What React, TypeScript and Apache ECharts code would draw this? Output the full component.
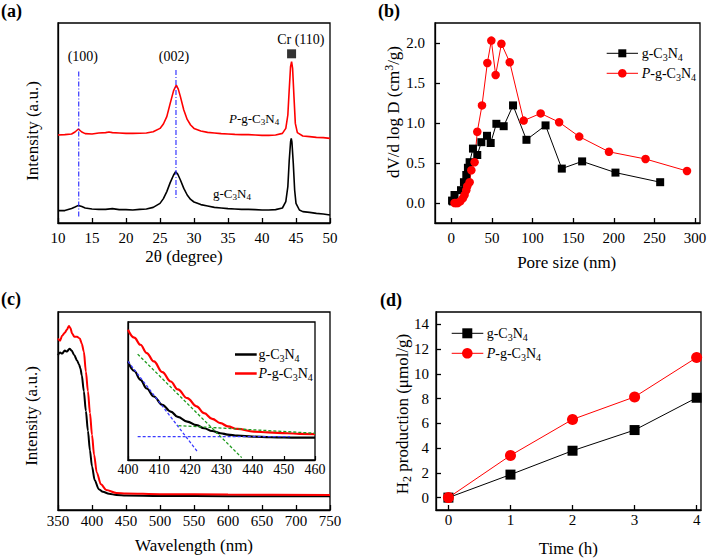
import React, { useEffect, useRef } from "react";
import * as echarts from "echarts";

const FONT = "Liberation Serif";

// ---------- Panel (a): XRD ----------
const xrdGx = [10, 11, 12, 12.5, 13, 13.5, 14, 15, 16, 17, 18, 19, 20, 21, 22, 23, 24, 25, 25.5, 26, 26.5, 27, 27.3, 27.6, 28, 28.5, 29, 29.5, 30, 31, 32, 33, 34, 35, 36, 37, 38, 39, 40, 41, 42, 43, 43.5, 43.8, 44.0, 44.2, 44.3, 44.4, 44.6, 44.8, 45, 45.5, 46, 47, 48, 49, 50];
const xrdGy = [6.2, 6.2, 7.3, 8.0, 8.8, 8.2, 7.5, 7.0, 6.8, 6.8, 7.2, 6.7, 6.7, 6.5, 6.8, 7.0, 7.8, 9.8, 12.2, 15.7, 20.2, 24, 25.6, 24.5, 21.5, 17.3, 14, 11.8, 10.5, 9.2, 8.5, 7.8, 7.5, 7.2, 7.0, 6.8, 6.8, 6.7, 6.5, 6.5, 6.7, 7.5, 10.7, 18.2, 31, 40.5, 42.3, 40.5, 29.8, 16.5, 9.8, 6.5, 5.7, 5.3, 4.8, 4.5, 4.0];
const xrdPx = [10, 11, 12, 12.5, 13, 13.5, 14, 15, 16, 17, 17.5, 18, 19, 20, 21, 22, 23, 24, 25, 25.5, 26, 26.5, 27, 27.4, 27.7, 28, 28.5, 29, 29.5, 30, 31, 32, 33, 34, 35, 36, 37, 38, 39, 40, 41, 42, 43, 43.5, 43.8, 44.0, 44.2, 44.35, 44.5, 44.7, 44.9, 45.2, 46, 47, 48, 49, 50];
const xrdPy = [44, 44.2, 44.5, 45.5, 47, 45.5, 44.7, 44.5, 45, 45.2, 45.5, 45.2, 45, 44.8, 44.8, 44.9, 45, 45.6, 47.3, 49.5, 53.2, 59.8, 66.2, 69, 66.8, 63.2, 56.5, 51.8, 49, 47.3, 46, 45.3, 45, 44.7, 44.5, 44.3, 44.2, 44.2, 44, 43.8, 43.8, 44, 44.8, 47.3, 54, 66.5, 78.2, 80.7, 77.3, 63.2, 49.8, 45.2, 43.5, 43.2, 42.8, 42.7, 42.3];
const peak100X = [13.05, 13.05];
const peak100Y = [75.7, 2.3];
const peak002X = [27.35, 27.35];
const peak002Y = [76.5, 11.8];
const crMarker = [[44.35, 84.6]];

// ---------- Panel (b): pore size distribution ----------
const poreGx = [1, 2, 4, 12, 15.6, 18.5, 20.5, 22.6, 26.7, 32, 37, 44, 48.5, 55.5, 64.5, 76, 92.5, 116, 136, 161, 202, 257];
const poreGy = [0.03, 0.02, 0.1, 0.16, 0.26, 0.35, 0.44, 0.51, 0.68, 0.6, 0.76, 0.84, 0.75, 0.99, 0.96, 1.22, 0.79, 0.97, 0.43, 0.52, 0.38, 0.26];
const porePx = [4, 6, 8, 11, 14.3, 16.4, 18.5, 19.7, 22.6, 24.7, 28.7, 32, 37.8, 44.4, 49.3, 54.6, 61.7, 71.9, 89.1, 110, 132.7, 157.4, 194, 239, 290];
const porePy = [0.0, 0.0, 0.0, 0.02, 0.06, 0.1, 0.16, 0.21, 0.26, 0.41, 0.51, 0.89, 1.22, 1.75, 2.03, 1.6, 1.99, 1.76, 1.03, 1.12, 1.01, 0.83, 0.64, 0.55, 0.4];

// ---------- Panel (c): UV-vis ----------
const uvGx = [350, 353, 356, 360, 363, 367, 370, 374, 378, 381, 383, 385, 388, 391, 394, 397, 400, 404, 410, 416, 425, 436, 450, 500, 600, 750];
const uvGy = [78.2, 79.5, 79, 80.5, 80, 81.5, 80.5, 78.2, 75.5, 73.5, 71.5, 68, 60, 50, 40, 30, 22, 15, 10.5, 9.2, 8.2, 7.6, 7.3, 7.1, 7.0, 7.0];
const uvPx = [350, 353, 356, 360, 363, 366, 368, 371, 374, 378, 382, 385, 388, 391, 394, 397, 400, 403, 407, 413, 421, 436, 450, 500, 600, 750];
const uvPy = [86.6, 85.5, 88, 89.5, 91, 92.9, 92, 89, 87.5, 87.5, 86.6, 84, 80, 70, 60, 49, 38, 28, 19, 13, 10.1, 8.6, 8.3, 8.0, 7.8, 7.6];

// inset (band-gap extrapolation)
const insGx = [400, 402, 404, 406, 408.3, 411, 413.7, 416, 419, 422, 424.4, 427, 429.7, 432, 435.1, 440, 445.8, 450, 455, 460];
const insGy = [71.4, 64.5, 58.1, 51.8, 46, 40, 35.1, 31.3, 27.8, 25.2, 23, 21, 19.4, 18.4, 17.6, 16.9, 16.5, 16.3, 16.2, 16.2];
const insPx = [400, 402, 404, 406, 408.3, 411, 413.7, 416, 419, 422, 424.4, 427, 429.7, 432, 435.1, 440.4, 445, 451.1, 455, 460];
const insPy = [94.4, 88.7, 83.5, 77.5, 71.4, 63.7, 56.9, 51.2, 44.8, 38.9, 33.9, 29.8, 26.7, 24.4, 22.5, 20.6, 20, 19.4, 19, 18.7];
const blueTanX = [400, 422.3];
const blueTanY = [71.4, 6.0];
const blueBaseX = [403.1, 452];
const blueBaseY = [16.9, 16.9];
const greenTanX = [403.1, 436.5];
const greenTanY = [76.7, 1.7];
const greenBaseX = [416.2, 460];
const greenBaseY = [24.9, 19.4];

// ---------- Panel (d): H2 production ----------
const timeH = [0, 1, 2, 3, 4];
const h2G = [0, 1.86, 3.79, 5.46, 8.07];
const h2P = [0, 3.41, 6.32, 8.14, 11.32];

const pairs = (xs: number[], ys: number[]) => xs.map((x, i) => [x, ys[i]]);

const rich = (fs: number) => ({
  n: { fontFamily: FONT, fontSize: fs, fill: "#000" },
  i: { fontFamily: FONT, fontSize: fs, fontStyle: "italic", fill: "#000" },
  s: { fontFamily: FONT, fontSize: Math.round(fs * 0.7), fill: "#000", padding: [Math.round(fs * 0.55), 0, 0, 0] },
  u: { fontFamily: FONT, fontSize: Math.round(fs * 0.7), fill: "#000", padding: [0, 0, Math.round(fs * 0.55), 0] },
});

const G_TXT = "{n|g-C}{s|3}{n|N}{s|4}";
const P_TXT = "{i|P}{n|-g-C}{s|3}{n|N}{s|4}";

const txt = (x: number, y: number, text: string, fs: number, o: any = {}) => ({
  type: "text",
  x,
  y,
  rotation: o.rot || 0,
  z: 100,
  silent: true,
  style: {
    text,
    fontFamily: FONT,
    fontSize: fs,
    fontWeight: o.bold ? "bold" : "normal",
    fill: "#000",
    align: o.align || "center",
    verticalAlign: "middle",
    rich: o.rich ? rich(fs) : undefined,
  },
});
const ln = (x1: number, y1: number, x2: number, y2: number, color: string, w: number) => ({
  type: "line",
  z: 100,
  silent: true,
  shape: { x1, y1, x2, y2 },
  style: { stroke: color, lineWidth: w },
});

const axisBase = (gridIndex: number, extra: any) => ({
  gridIndex,
  type: "value",
  axisLine: { show: true, onZero: false, lineStyle: { color: "#000", width: 1.3 } },
  axisTick: { show: true, inside: true, length: 5, lineStyle: { color: "#000", width: 1.3 } },
  splitLine: { show: false },
  ...extra,
  axisLabel: { color: "#000", fontFamily: FONT, fontSize: 15, ...(extra.axisLabel || {}) },
});

const gridBase = { show: true, borderColor: "#000", borderWidth: 1.3, containLabel: false, outerBoundsMode: "none" };

const line = (name: string, xi: number, data: any[], color: string, width: number, extra: any = {}) => ({
  name,
  type: "line",
  xAxisIndex: xi,
  yAxisIndex: xi,
  data,
  silent: true,
  showSymbol: false,
  symbol: "none",
  lineStyle: { color, width },
  itemStyle: { color },
  ...extra,
});

const option: any = {
  animation: false,
  backgroundColor: "#fff",
  textStyle: { fontFamily: FONT },
  grid: [
    { ...gridBase, left: 58, top: 23, width: 272, height: 200 },
    { ...gridBase, left: 435, top: 23, width: 265, height: 200 },
    { ...gridBase, left: 58, top: 312, width: 272, height: 198 },
    { ...gridBase, left: 436, top: 312, width: 265, height: 198 },
    { ...gridBase, left: 128, top: 322, width: 187, height: 138, backgroundColor: "#fff" },
  ],
  xAxis: [
    axisBase(0, { min: 10, max: 50, interval: 5, axisLabel: { margin: 7 } }),
    axisBase(1, { min: -20, max: 306, minInterval: 50, maxInterval: 50, axisLabel: { margin: 7, showMinLabel: false, showMaxLabel: false } }),
    axisBase(2, { min: 350, max: 750, interval: 50, axisLabel: { margin: 3 } }),
    axisBase(3, { min: -0.2, max: 4.07, minInterval: 1, maxInterval: 1, axisLabel: { margin: 2, showMinLabel: false, showMaxLabel: false } }),
    axisBase(4, { min: 400, max: 460, interval: 10, axisTick: { show: true, inside: true, length: 4, lineStyle: { color: "#000", width: 1.2 } }, axisLabel: { margin: 2, fontSize: 14 } }),
  ],
  yAxis: [
    axisBase(0, { min: 0, max: 100, axisTick: { show: false }, axisLabel: { show: false } }),
    axisBase(1, { min: -0.25, max: 2.25, minInterval: 0.5, maxInterval: 0.5, axisLabel: { margin: 10, showMinLabel: false, showMaxLabel: false, formatter: (v: number) => v.toFixed(1) } }),
    axisBase(2, { min: 0, max: 100, axisTick: { show: false }, axisLabel: { show: false } }),
    axisBase(3, { min: -1, max: 15, minInterval: 2, maxInterval: 2, axisLabel: { margin: 7, showMinLabel: false, showMaxLabel: false } }),
    axisBase(4, { min: 0, max: 100, axisTick: { show: false }, axisLabel: { show: false } }),
  ],
  series: [
    // (a)
    line("g-C3N4 XRD", 0, pairs(xrdGx, xrdGy), "#000", 1.6),
    line("P-g-C3N4 XRD", 0, pairs(xrdPx, xrdPy), "#ff0000", 1.6),
    line("(100)", 0, pairs(peak100X, peak100Y), "#2424ff", 1.1, { lineStyle: { color: "#2424ff", width: 1.1, type: [5, 2, 1, 2] } }),
    line("(002)", 0, pairs(peak002X, peak002Y), "#2424ff", 1.1, { lineStyle: { color: "#2424ff", width: 1.1, type: [5, 2, 1, 2] } }),
    { name: "Cr (110)", type: "scatter", xAxisIndex: 0, yAxisIndex: 0, data: crMarker, symbol: "rect", symbolSize: 9, itemStyle: { color: "#000" }, silent: true },
    // (b)
    line("g-C3N4 pore", 1, pairs(poreGx, poreGy), "#000", 1, { showSymbol: true, symbol: "rect", symbolSize: 8 }),
    line("P-g-C3N4 pore", 1, pairs(porePx, porePy), "#ff0000", 1, { showSymbol: true, symbol: "circle", symbolSize: 8.5 }),
    // (c)
    line("g-C3N4 UV", 2, pairs(uvGx, uvGy), "#000", 2, { smooth: 0.3, smoothMonotone: "x" }),
    line("P-g-C3N4 UV", 2, pairs(uvPx, uvPy), "#ff0000", 2, { smooth: 0.3, smoothMonotone: "x" }),
    // inset
    line("g-C3N4 inset", 4, pairs(insGx, insGy), "#000", 2.2, { smooth: 0.4, smoothMonotone: "x" }),
    line("P-g-C3N4 inset", 4, pairs(insPx, insPy), "#ff0000", 2.2, { smooth: 0.4, smoothMonotone: "x" }),
    line("blue tangent", 4, pairs(blueTanX, blueTanY), "#3a3aff", 1.3, { lineStyle: { color: "#3a3aff", width: 1.3, type: [3, 2] } }),
    line("blue base", 4, pairs(blueBaseX, blueBaseY), "#3a3aff", 1.3, { lineStyle: { color: "#3a3aff", width: 1.3, type: [3, 2] } }),
    line("green tangent", 4, pairs(greenTanX, greenTanY), "#1f9a1f", 1.3, { lineStyle: { color: "#1f9a1f", width: 1.3, type: [3, 2] } }),
    line("green base", 4, pairs(greenBaseX, greenBaseY), "#1f9a1f", 1.3, { lineStyle: { color: "#1f9a1f", width: 1.3, type: [3, 2] } }),
    // (d)
    line("g-C3N4 H2", 3, pairs(timeH, h2G), "#000", 1, { showSymbol: true, symbol: "rect", symbolSize: 10 }),
    line("P-g-C3N4 H2", 3, pairs(timeH, h2P), "#ff0000", 1, { showSymbol: true, symbol: "circle", symbolSize: 11 }),
  ],
  graphic: [
    // panel letters
    txt(1, 11, "(a)", 18, { bold: true, align: "left" }),
    txt(378, 11, "(b)", 18, { bold: true, align: "left" }),
    txt(1, 299, "(c)", 18, { bold: true, align: "left" }),
    txt(380, 300, "(d)", 18, { bold: true, align: "left" }),
    // (a) annotations
    txt(82.8, 56, "(100)", 14),
    txt(174, 56, "(002)", 14),
    txt(300.8, 39, "Cr (110)", 14),
    txt(229, 118, P_TXT, 13, { align: "left", rich: true }),
    txt(213, 193, G_TXT, 13, { align: "left", rich: true }),
    txt(184, 256, "2θ (degree)", 17),
    txt(32, 131, "Intensity (a.u.)", 17, { rot: Math.PI / 2 }),
    // (b) titles + legend
    txt(566.7, 262, "Pore size (nm)", 17),
    txt(393, 112, "{n|dV/d log D (cm}{u|3}{n|/g)}", 17, { rot: Math.PI / 2, rich: true }),
    ln(606.7, 53.3, 638, 53.3, "#000", 1),
    { type: "rect", z: 101, silent: true, shape: { x: 618.3, y: 49.3, width: 8, height: 8 }, style: { fill: "#000" } },
    txt(641.7, 53.3, G_TXT, 14, { align: "left", rich: true }),
    ln(606.7, 73.3, 638, 73.3, "#ff0000", 1),
    { type: "circle", z: 101, silent: true, shape: { cx: 622.3, cy: 73.3, r: 4.3 }, style: { fill: "#ff0000" } },
    txt(641.7, 73.3, P_TXT, 14, { align: "left", rich: true }),
    // (c) titles + inset legend
    txt(194, 545, "Wavelength (nm)", 17),
    txt(31, 416, "Intensity (a.u.)", 17, { rot: Math.PI / 2 }),
    ln(235, 354.5, 256.7, 354.5, "#000", 2.5),
    txt(258.5, 354.5, G_TXT, 14, { align: "left", rich: true }),
    ln(235, 373.5, 256.7, 373.5, "#ff0000", 2.5),
    txt(258.5, 373.5, P_TXT, 14, { align: "left", rich: true }),
    // (d) titles + legend
    txt(568.3, 548, "Time (h)", 17),
    txt(402.5, 414, "{n|H}{s|2}{n| production (μmol/g)}", 17, { rot: Math.PI / 2, rich: true }),
    ln(451.7, 333.3, 483.3, 333.3, "#000", 1),
    { type: "rect", z: 101, silent: true, shape: { x: 462.3, y: 328.3, width: 10, height: 10 }, style: { fill: "#000" } },
    txt(486.7, 333.3, G_TXT, 14, { align: "left", rich: true }),
    ln(451.7, 353.3, 483.3, 353.3, "#ff0000", 1),
    { type: "circle", z: 101, silent: true, shape: { cx: 467.3, cy: 353.3, r: 5.3 }, style: { fill: "#ff0000" } },
    txt(486.7, 353.3, P_TXT, 14, { align: "left", rich: true }),
  ],
};

export default function App() {
  const ref = useRef<HTMLDivElement>(null);
  useEffect(() => {
    const chart = echarts.init(ref.current!, null, { renderer: "svg" });
    chart.setOption(option);
    return () => chart.dispose();
  }, []);
  return (
    <div
      ref={ref}
      style={{ position: "fixed", left: 0, top: 0, width: 711, height: 559, background: "#fff" }}
    />
  );
}
